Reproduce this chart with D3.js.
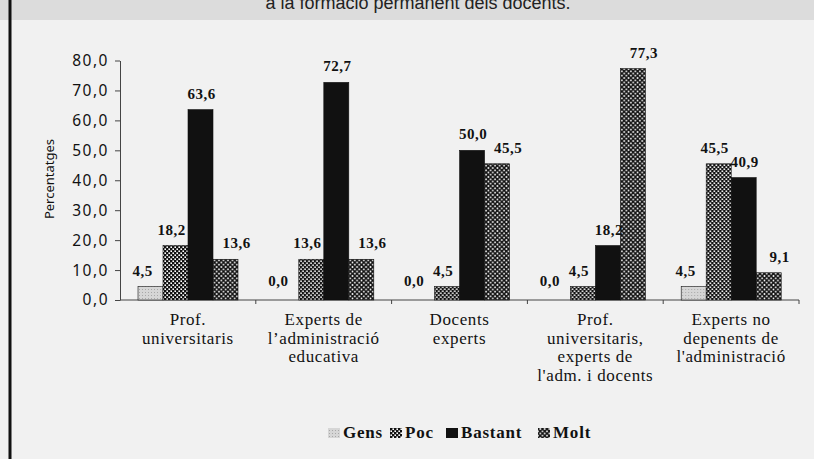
<!DOCTYPE html>
<html>
<head>
<meta charset="utf-8">
<script src="https://cdn.jsdelivr.net/npm/d3@7"></script>
<style>
  body { margin: 0; background: #f1f1f1; }
  svg { display: block; }
</style>
</head>
<body>
<svg width="814" height="459"></svg>
<script>
// data
var categories = ["Prof. universitaris", "Experts de l’administració educativa", "Docents experts",
  "Prof. universitaris, experts de l'adm. i docents", "Experts no depenents de l'administració"];
var catLines = [
  ["Prof.", "universitaris"],
  ["Experts de", "l’administració", "educativa"],
  ["Docents", "experts"],
  ["Prof.", "universitaris,", "experts de", "l'adm. i docents"],
  ["Experts no", "depenents de", "l'administració"]
];
var series = ["Gens", "Poc", "Bastant", "Molt"];
var gens    = [4.5, 0.0, 0.0, 0.0, 4.5];
var poc     = [18.2, 13.6, 4.5, 4.5, 45.5];
var bastant = [63.6, 72.7, 50.0, 18.2, 40.9];
var molt    = [13.6, 13.6, 45.5, 77.3, 9.1];
var yTicks  = [0, 10, 20, 30, 40, 50, 60, 70, 80];

var values = [gens, poc, bastant, molt];

var svg = d3.select("svg"),
    margin = {top: 60, right: 15, bottom: 159, left: 120},
    width = 814 - margin.left - margin.right,
    height = 459 - margin.top - margin.bottom;

var fmt = function(v) { return d3.format(".1f")(v).replace(".", ","); };

// scanned page background + grey strip at top (title is cut off in the scan)
svg.append("rect").attr("width", 814).attr("height", 459).attr("fill", "#f1f1f1");
svg.append("rect").attr("width", 814).attr("height", 20).attr("fill", "#dcdcdc");
svg.append("text")
  .attr("x", 418).attr("y", 9)
  .attr("text-anchor", "middle")
  .style("font", "18px 'Liberation Sans', sans-serif")
  .attr("fill", "#222")
  .text("a la formació permanent dels docents.");
svg.append("line")
  .attr("x1", 10).attr("x2", 10).attr("y1", 0).attr("y2", 459)
  .attr("stroke", "#111").attr("stroke-width", 3);

// fill patterns
var defs = svg.append("defs");
var pGens = defs.append("pattern").attr("id", "p-gens")
  .attr("width", 3).attr("height", 3).attr("patternUnits", "userSpaceOnUse");
pGens.append("rect").attr("width", 3).attr("height", 3).attr("fill", "#d6d6d6");
pGens.append("rect").attr("x", 1).attr("y", 1).attr("width", 1).attr("height", 1).attr("fill", "#a8a8a8");

var pPoc = defs.append("pattern").attr("id", "p-poc")
  .attr("width", 4).attr("height", 4).attr("patternUnits", "userSpaceOnUse");
pPoc.append("rect").attr("width", 4).attr("height", 4).attr("fill", "#111");
pPoc.append("rect").attr("x", 0.4).attr("y", 0.4).attr("width", 1.6).attr("height", 1.6).attr("fill", "#fff");
pPoc.append("rect").attr("x", 2.4).attr("y", 2.4).attr("width", 1.6).attr("height", 1.6).attr("fill", "#fff");

var pMolt = defs.append("pattern").attr("id", "p-molt")
  .attr("width", 4.5).attr("height", 4.5).attr("patternUnits", "userSpaceOnUse");
pMolt.append("rect").attr("width", 4.5).attr("height", 4.5).attr("fill", "#fff");
pMolt.append("path").attr("d", "M0,0L4.5,4.5M4.5,0L0,4.5")
  .attr("stroke", "#111").attr("stroke-width", 1.5);

var fills = {"Gens": "url(#p-gens)", "Poc": "url(#p-poc)", "Bastant": "#111", "Molt": "url(#p-molt)"};
var labelShift = {"Gens": -8, "Poc": -4, "Bastant": 1, "Molt": 11};

var chartGroup = svg.append("g").attr("transform", "translate(" + margin.left + "," + margin.top + ")");

var x0 = d3.scaleBand().domain(categories).range([0, width]);
var x1 = d3.scaleBand().domain(series).range([18, 118]);
var y = d3.scaleLinear().domain([0, 80]).range([height, 0.5]);

// y axis
var yAxis = chartGroup.append("g")
  .call(d3.axisLeft(y).tickValues(yTicks).tickFormat(fmt).tickSize(5).tickSizeOuter(0));
yAxis.select(".domain").attr("stroke", "#444");
yAxis.selectAll(".tick line").attr("stroke", "#444");
yAxis.selectAll("text")
  .attr("x", -11)
  .style("font", "15.5px 'Noto Sans', sans-serif")
  .style("letter-spacing", "1.5px")
  .attr("fill", "#111");

// x axis line with ticks at category boundaries
chartGroup.append("line")
  .attr("x1", 0).attr("x2", width).attr("y1", height).attr("y2", height)
  .attr("stroke", "#444");
chartGroup.selectAll(".xtick")
  .data(categories.slice(1).concat(["end"]))
  .enter().append("line")
  .attr("class", "xtick")
  .attr("x1", function(d) { return d === "end" ? width : x0(d); })
  .attr("x2", function(d) { return d === "end" ? width : x0(d); })
  .attr("y1", height).attr("y2", height + 4)
  .attr("stroke", "#444");

// bars
var groups = chartGroup.selectAll(".cat")
  .data(categories)
  .enter().append("g")
  .attr("class", "cat")
  .attr("transform", function(d) { return "translate(" + x0(d) + ",0)"; });

groups.selectAll("rect")
  .data(function(d, i) { return series.map(function(s, j) { return {s: s, v: values[j][i]}; }); })
  .enter().append("rect")
  .attr("x", function(d) { return x1(d.s); })
  .attr("width", x1.bandwidth())
  .attr("y", function(d) { return y(d.v); })
  .attr("height", function(d) { return height - y(d.v); })
  .attr("fill", function(d) { return fills[d.s]; })
  .attr("stroke", function(d) { return d.v > 0 ? "#111" : "none"; })
  .attr("stroke-width", 0.6);

groups.selectAll(".val")
  .data(function(d, i) { return series.map(function(s, j) { return {s: s, v: values[j][i]}; }); })
  .enter().append("text")
  .attr("class", "val")
  .attr("x", function(d) { return x1(d.s) + x1.bandwidth() / 2 + labelShift[d.s]; })
  .attr("y", function(d) { return y(d.v) - (d.v === 0 ? 14 : 11); })
  .attr("text-anchor", "middle")
  .style("font", "bold 15px 'Liberation Serif', serif")
  .style("letter-spacing", "0.5px")
  .attr("fill", "#111")
  .text(function(d) { return fmt(d.v); });

// category labels
groups.append("text")
  .attr("transform", "translate(" + x0.bandwidth() / 2 + "," + (height + 25) + ")")
  .attr("text-anchor", "middle")
  .style("font", "17px 'Liberation Serif', serif")
  .style("letter-spacing", "0.6px")
  .attr("fill", "#111")
  .selectAll("tspan")
  .data(function(d, i) { return catLines[i]; })
  .enter().append("tspan")
  .attr("x", 0)
  .attr("dy", function(d, i) { return i === 0 ? 0 : 18.6; })
  .text(function(d) { return d; });

// y label
svg.append("text")
  .attr("transform", "translate(54,179) rotate(-90)")
  .attr("text-anchor", "middle")
  .style("font", "13px 'Noto Sans', sans-serif")
  .attr("fill", "#111")
  .text("Percentatges");

// legend
var legendWidths = [62, 56, 92, 60];
var legend = svg.append("g").attr("transform", "translate(328,438)");
var lx = 0;
series.forEach(function(s, i) {
  var g = legend.append("g").attr("transform", "translate(" + lx + ",0)");
  g.append("rect").attr("x", 0).attr("y", -10).attr("width", 12).attr("height", 10)
    .attr("fill", fills[s]);
  g.append("text").attr("x", 15)
    .style("font", "bold 17px 'Liberation Serif', serif")
    .style("letter-spacing", "0.8px")
    .attr("fill", "#111")
    .text(s);
  lx += legendWidths[i];
});
</script>
</body>
</html>
